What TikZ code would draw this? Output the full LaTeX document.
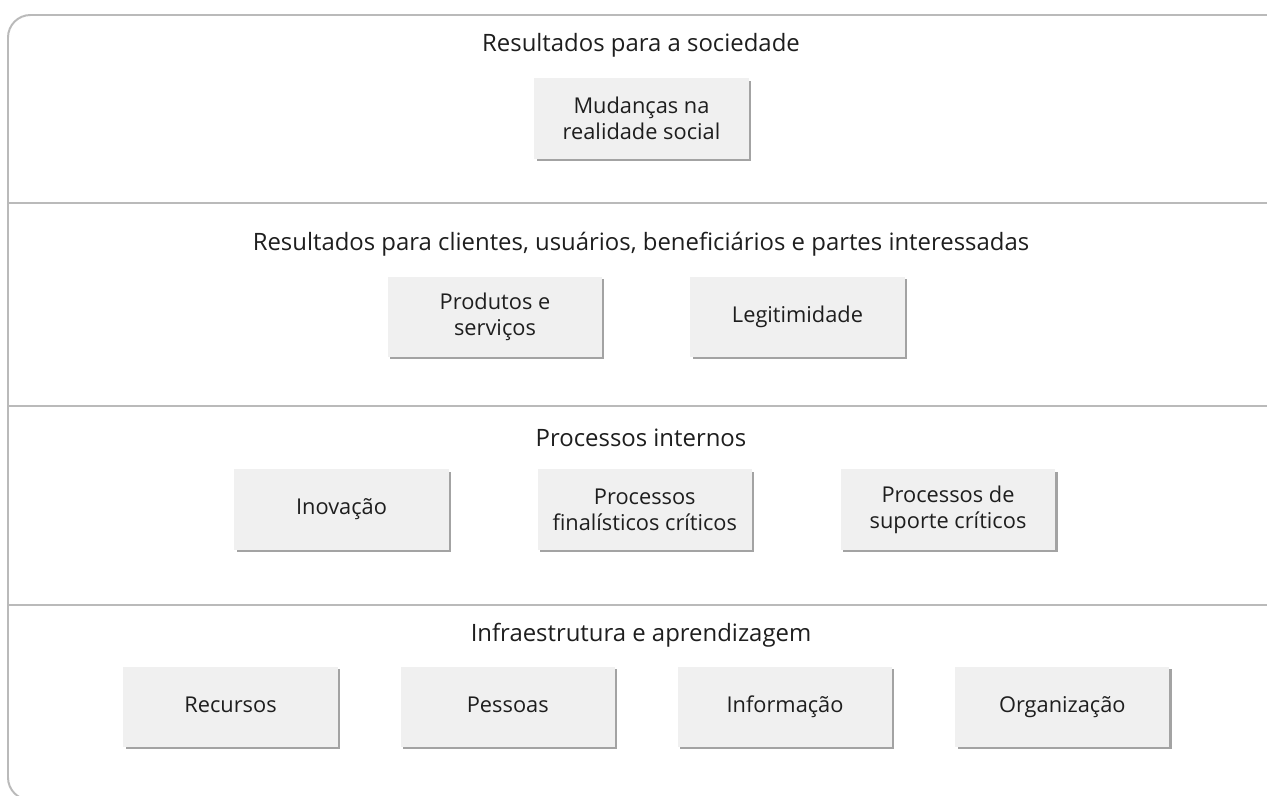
\documentclass[tikz,border=0pt]{standalone}
\usepackage{fontspec}
\setmainfont{Open Sans}
\usetikzlibrary{shadows}
\definecolor{caixacinza}{HTML}{F0F0F0}
\definecolor{linhacinza}{HTML}{BABABA}
\definecolor{textocinza}{HTML}{1E1E1E}

\begin{document}
\begin{tikzpicture}[x=0.025cm, y=-0.025cm, node distance=7.58cm]

    \tikzstyle{caixa} = [rectangle, minimum width=5.35cm, minimum height=2cm, text centered, align=center, fill=caixacinza, text=textocinza, font=\fontsize{15.5}{18.5}\selectfont, drop shadow={shadow xshift=0.06cm, shadow yshift=-0.06cm, fill=black!60, opacity=0.6}]
    \tikzstyle{simples} = [text height=11.5pt, text depth=4pt]
    \tikzstyle{titulo} = [text=textocinza, font=\fontsize{17}{20}\selectfont]
    \tikzstyle{linha} = [draw=linhacinza, line width=1.4pt]

    \useasboundingbox (0,0) rectangle (1267,795);
    \clip (0,0) rectangle (1267,795);

    % Frame and layers
    \draw [linha, rounded corners=16] (1290,15) -- (8,15) -- (8,800) -- (1290,800);
    \draw [linha] (8,203) -- (1290,203);
    \draw [linha] (8,406) -- (1290,406);
    \draw [linha] (8,605) -- (1290,605);

    % Titles
    \node (sociedade) [titulo] at (641,45) {Resultados para a sociedade};
    \node (clientes) [titulo] at (641,244) {Resultados para clientes, usuários, beneficiários e partes interessadas};
    \node (internos) [titulo] at (641,438) {Processos internos};
    \node (infra) [titulo] at (641,635) {Infraestrutura e aprendizagem};

    % Nodes
    \node (mudancas) [caixa] at (641.5,118.5) {Mudanças na\\realidade social};

    \node (produtos) [caixa] at (495,317) {Produtos e\\serviços};
    \node (legitimidade) [caixa, simples, right of=produtos, xshift=-0.02cm] {Legitimidade};

    \node (inovacao) [caixa, simples] at (341.5,509.5) {Inovação};
    \node (finalisticos) [caixa, right of=inovacao] {Processos\\finalísticos críticos};
    \node (suporte) [caixa, right of=finalisticos] {Processos de\\suporte críticos};

    \node (recursos) [caixa, simples] at (230.5,707) {Recursos};
    \node (pessoas) [caixa, simples, right of=recursos, xshift=-0.65cm] {Pessoas};
    \node (informacao) [caixa, simples, right of=pessoas, xshift=-0.65cm] {Informação};
    \node (organizacao) [caixa, simples, right of=informacao, xshift=-0.65cm] {Organização};

\end{tikzpicture}
\end{document}
